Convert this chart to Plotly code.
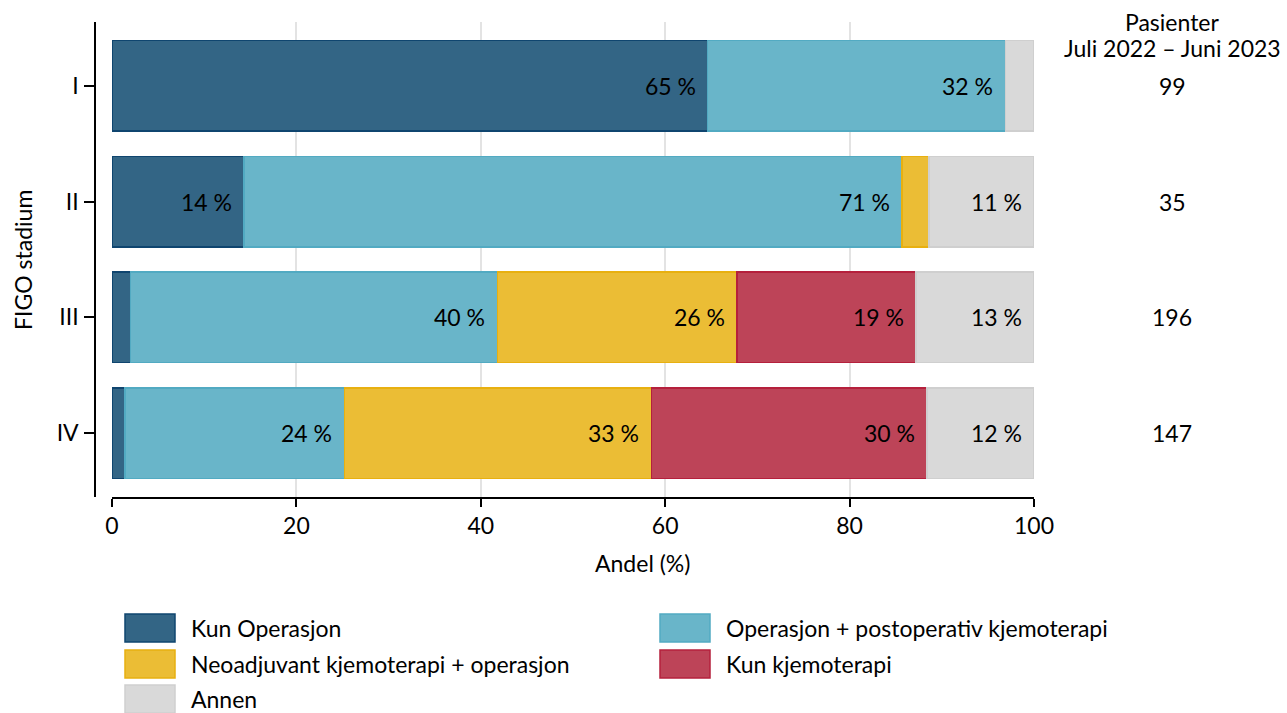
import plotly.graph_objects as go

stages = ["I", "II", "III", "IV"]
patients = [99, 35, 196, 147]
series_names = ["Kun Operasjon", "Operasjon + postoperativ kjemoterapi",
                "Neoadjuvant kjemoterapi + operasjon", "Kun kjemoterapi", "Annen"]
kun_operasjon = [64.6, 14.3, 2.0, 1.4]
operasjon_postop = [32.3, 71.4, 39.8, 23.8]
neoadjuvant = [0.0, 2.9, 26.0, 33.3]
kun_kjemo = [0.0, 0.0, 19.4, 29.9]
annen = [3.1, 11.4, 12.8, 11.6]
series_values = [kun_operasjon, operasjon_postop, neoadjuvant, kun_kjemo, annen]
x_ticks = [0, 20, 40, 60, 80, 100]

fills = ["#336585", "#69b5c9", "#ebbd35", "#bd4458", "#d9d9d9"]
borders = ["#0f456f", "#52aac2", "#e8b010", "#b5203c", "#cfcfcf"]

FONT = "Lato"
FS = 23
W, H = 1287, 713
ML, MR, MT, MB = 95, 253, 22, 216
PW = W - ML - MR
PH = H - MT - MB

def px(xp):
    return (xp - ML) / PW

def py(yp):
    return (H - MB - yp) / PH

fig = go.Figure()
for name, vals, fc, bc in zip(series_names, series_values, fills, borders):
    fig.add_trace(go.Bar(
        y=stages, x=vals, name=name, orientation="h", width=0.78,
        marker=dict(color=fc, line=dict(color=bc, width=1.5)),
        showlegend=False, hoverinfo="x+name",
    ))

annotations = []
# segment labels
for i, st in enumerate(stages):
    cum = 0.0
    for vals in series_values:
        v = vals[i]
        cum += v
        if v >= 5:
            annotations.append(dict(
                x=min(round(cum, 6), 100), y=st, xref="x", yref="y", text=f"{round(v)} %",
                showarrow=False, xanchor="right", xshift=-10,
                font=dict(family=FONT, size=FS, color="black")))
    annotations.append(dict(
        x=px(1172), y=st, xref="paper", yref="y", text=str(patients[i]),
        showarrow=False, xanchor="center",
        font=dict(family=FONT, size=FS, color="black")))

annotations.append(dict(x=px(1172), y=py(22), xref="paper", yref="paper",
                        text="Pasienter", showarrow=False, xanchor="center", yanchor="middle",
                        font=dict(family=FONT, size=FS, color="black")))
annotations.append(dict(x=px(1172), y=py(48), xref="paper", yref="paper",
                        text="Juli 2022 – Juni 2023", showarrow=False, xanchor="center", yanchor="middle",
                        font=dict(family=FONT, size=FS, color="black")))
annotations.append(dict(x=px(642), y=py(563), xref="paper", yref="paper",
                        text="Andel (%)", showarrow=False, xanchor="center", yanchor="middle",
                        font=dict(family=FONT, size=FS, color="black")))
annotations.append(dict(x=px(23), y=py(260), xref="paper", yref="paper",
                        text="FIGO stadium", showarrow=False, textangle=-90,
                        xanchor="center", yanchor="middle",
                        font=dict(family=FONT, size=FS, color="black")))

# legend
shapes = []
leg_pos = [(125, 628), (660, 628), (125, 664), (660, 664), (125, 699)]
for (lx, ly), name, fc, bc in zip(leg_pos, series_names, fills, borders):
    shapes.append(dict(type="rect", xref="paper", yref="paper",
                       x0=px(lx), x1=px(lx + 50), y0=py(ly + 14), y1=py(ly - 14),
                       fillcolor=fc, line=dict(color=bc, width=1.5)))
    annotations.append(dict(x=px(lx + 64), y=py(ly), xref="paper", yref="paper",
                            text=name, showarrow=False, xanchor="left", yanchor="middle",
                            font=dict(family=FONT, size=FS, color="black")))

fig.update_layout(
    barmode="stack",
    width=W, height=H,
    margin=dict(l=ML, r=MR, t=MT, b=MB, pad=0),
    plot_bgcolor="white", paper_bgcolor="white",
    font=dict(family=FONT, size=FS, color="black"),
    xaxis=dict(domain=[17 / PW, 1], range=[0, 100], tickvals=x_ticks,
               showgrid=True, gridcolor="#e3e3e3", gridwidth=2,
               showline=True, linecolor="black", linewidth=1.5,
               ticks="outside", ticklen=8, tickcolor="black", tickwidth=1.5,
               zeroline=False, anchor="y",
               tickfont=dict(family=FONT, size=FS, color="black")),
    yaxis=dict(categoryorder="array", categoryarray=stages, range=[3.55, -0.55],
               anchor="free", position=0, showline=True, linecolor="black", linewidth=1.5,
               ticks="outside", ticklen=10, tickcolor="black", tickwidth=1.5,
               showgrid=False, zeroline=False, ticklabelstandoff=1,
               tickfont=dict(family=FONT, size=FS, color="black")),
    annotations=annotations,
    shapes=shapes,
)

fig.write_html("out.html", config={"displayModeBar": False},
               post_script="document.body.style.margin='0';document.body.style.overflow='hidden';")
